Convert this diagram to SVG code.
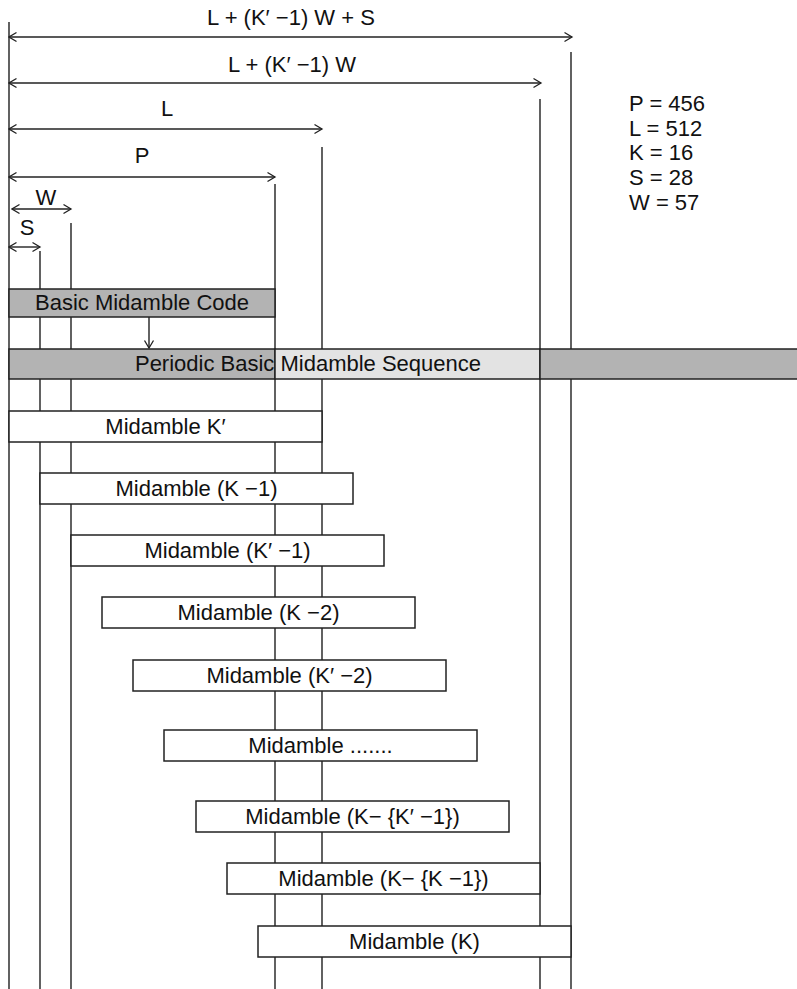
<svg xmlns="http://www.w3.org/2000/svg" width="797" height="989" viewBox="0 0 797 989">
<defs>
<marker id="ah" viewBox="0 0 10 12" refX="8.5" refY="6" markerWidth="10" markerHeight="12" markerUnits="userSpaceOnUse" orient="auto-start-reverse">
<path d="M1,1.5 L8.5,6 L1,10.5" fill="none" stroke="#222" stroke-width="1.3"/>
</marker>
<style>
text{font-family:"Liberation Sans",Arial,Helvetica,sans-serif;font-size:22px;fill:#111}
.c{text-anchor:middle}
.g{stroke:#3a3a3a;stroke-width:1.6;fill:none}
.dim{stroke:#222;stroke-width:1.4;fill:none;marker-start:url(#ah);marker-end:url(#ah)}
.box{fill:#fff;stroke:#222;stroke-width:1.5}
.dark{fill:#b3b3b3;stroke:#222;stroke-width:1.5}
.light{fill:#e3e3e3;stroke:#222;stroke-width:1.5}
</style>
</defs>
<rect width="797" height="989" fill="#fff"/>

<g id="guides" class="g">
<line x1="9" y1="22" x2="9" y2="989"/>
<line x1="40" y1="251" x2="40" y2="989"/>
<line x1="71" y1="223" x2="71" y2="989"/>
<line x1="275" y1="184" x2="275" y2="989"/>
<line x1="322" y1="147" x2="322" y2="989"/>
<line x1="540" y1="99" x2="540" y2="989"/>
<line x1="571" y1="52" x2="571" y2="989"/>
</g>

<g id="connectors">
<line class="dim" x1="9" y1="37" x2="572" y2="37"/>
<line class="dim" x1="9" y1="83" x2="541" y2="83"/>
<line class="dim" x1="9" y1="129" x2="322" y2="129"/>
<line class="dim" x1="9" y1="177" x2="275" y2="177"/>
<line class="dim" x1="12" y1="209" x2="71" y2="209"/>
<line class="dim" x1="9" y1="247" x2="40" y2="247"/>
<line x1="149" y1="317" x2="149" y2="348" stroke="#222" stroke-width="1.4" marker-end="url(#ah)"/>
</g>

<g id="dim-labels">
<text class="c" x="291" y="25">L + (K′ −1) W + S</text>
<text class="c" x="292" y="72">L + (K′ −1) W</text>
<text class="c" x="167" y="116">L</text>
<text class="c" x="142" y="163">P</text>
<text class="c" x="46" y="205">W</text>
<text class="c" x="27" y="235">S</text>
</g>

<g id="params">
<text x="629" y="111">P = 456</text>
<text x="629" y="136">L = 512</text>
<text x="629" y="160">K = 16</text>
<text x="629" y="185">S = 28</text>
<text x="629" y="210">W = 57</text>
</g>

<g id="basic-code">
<rect class="dark" x="9" y="289" width="266" height="28"/>
<text class="c" x="142" y="310">Basic Midamble Code</text>
</g>

<g id="periodic-sequence">
<rect class="dark" x="9" y="349" width="266" height="30"/>
<rect class="light" x="275" y="349" width="265" height="30"/>
<rect class="dark" x="540" y="349" width="260" height="30"/>
<text class="c" x="308" y="371">Periodic Basic Midamble Sequence</text>
</g>

<g id="m1"><rect class="box" x="9" y="411" width="313" height="31"/><text class="c" x="165.5" y="434">Midamble K′</text></g>
<g id="m2"><rect class="box" x="40" y="473" width="313" height="31"/><text class="c" x="196.5" y="496">Midamble (K −1)</text></g>
<g id="m3"><rect class="box" x="71" y="535" width="313" height="31"/><text class="c" x="227.5" y="558">Midamble (K′ −1)</text></g>
<g id="m4"><rect class="box" x="102" y="597" width="313" height="31"/><text class="c" x="258.5" y="620">Midamble (K −2)</text></g>
<g id="m5"><rect class="box" x="133" y="660" width="313" height="31"/><text class="c" x="289.5" y="683">Midamble (K′ −2)</text></g>
<g id="m6"><rect class="box" x="164" y="730" width="313" height="31"/><text class="c" x="320.5" y="753">Midamble .......</text></g>
<g id="m7"><rect class="box" x="196" y="801" width="313" height="31"/><text class="c" x="352.5" y="824">Midamble (K− {K′ −1})</text></g>
<g id="m8"><rect class="box" x="227" y="863" width="313" height="31"/><text class="c" x="383.5" y="886">Midamble (K− {K −1})</text></g>
<g id="m9"><rect class="box" x="258" y="926" width="313" height="31"/><text class="c" x="414.5" y="949">Midamble (K)</text></g>
</svg>
